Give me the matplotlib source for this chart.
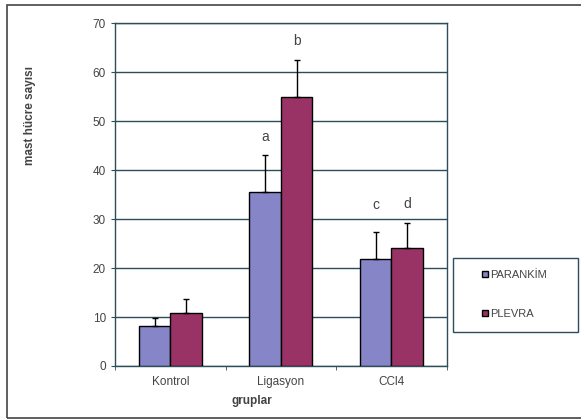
import numpy as np
import matplotlib.pyplot as plt
from matplotlib.patches import Rectangle

plt.rcParams['font.family'] = ['Liberation Sans', 'DejaVu Sans']

# data
groups = ['Kontrol', 'Ligasyon', 'CCl4']
parankim = [8.2, 35.5, 21.8]
parankim_err = [1.6, 7.6, 5.5]
plevra = [10.8, 54.9, 24.1]
plevra_err = [2.9, 7.5, 5.1]
letters_parankim = ['', 'a', 'c']
letters_plevra = ['', 'b', 'd']

blue = '#8585c8'
red = '#993366'
grid_col = '#2e4d5a'
txt_col = '#444444'

fig = plt.figure(figsize=(5.81, 4.20), dpi=100)
ax = fig.add_axes([0.198, 0.1286, 0.571, 0.8164])

x = np.arange(len(groups))
w = 0.285
ax.bar(x - w / 2, parankim, w, color=blue, edgecolor='black', linewidth=1.0,
       label='PARANKİM', zorder=3)
ax.bar(x + w / 2, plevra, w, color=red, edgecolor='black', linewidth=1.0,
       label='PLEVRA', zorder=3)
ax.errorbar(x - w / 2, parankim, yerr=[np.zeros(3), parankim_err], fmt='none',
            ecolor='black', elinewidth=1.0, capsize=2.5, capthick=1.0, zorder=4)
ax.errorbar(x + w / 2, plevra, yerr=[np.zeros(3), plevra_err], fmt='none',
            ecolor='black', elinewidth=1.0, capsize=2.5, capthick=1.0, zorder=4)

# significance letters above the error bars
for i in range(3):
    top_p = parankim[i] + parankim_err[i]
    top_l = plevra[i] + plevra_err[i]
    if abs(top_p - top_l) < 3:
        top_p = top_l = max(top_p, top_l)
    if letters_parankim[i]:
        ax.text(x[i] - w / 2, top_p + 2.2, letters_parankim[i],
                ha='center', va='bottom', fontsize=10, color=txt_col)
    if letters_plevra[i]:
        ax.text(x[i] + w / 2, top_l + 2.5, letters_plevra[i],
                ha='center', va='bottom', fontsize=10, color=txt_col)

ax.set_xlim(-0.5, 2.5)
ax.set_ylim(0, 70)
ax.set_yticks(range(0, 71, 10))
ax.yaxis.grid(True, color=grid_col, linewidth=1.0, zorder=0)
ax.set_xticks(x)
ax.set_xticklabels(groups, fontsize=8.5, color=txt_col)
ax.set_xticks([-0.5, 0.5, 1.5, 2.5], minor=True)
ax.tick_params(axis='x', which='major', length=0, pad=7)
ax.tick_params(axis='x', which='minor', length=3, color=grid_col)
ax.tick_params(axis='y', labelsize=8.5, labelcolor=txt_col, length=3, color=grid_col)
for s in ax.spines.values():
    s.set_color(grid_col)
    s.set_linewidth(1.0)

fig.text(0.434, 0.045, 'gruplar', ha='center', va='center',
         fontsize=8.5, fontweight='bold', color=txt_col)
fig.text(0.052, 0.726, 'mast hücre sayısı', rotation=90, ha='center', va='center',
         fontsize=8.5, fontweight='bold', color=txt_col)

# legend box drawn separately so it gets the wide Excel shape
fig.patches.append(Rectangle((453 / 581, 88 / 420), 125 / 581, 74 / 420,
                             transform=fig.transFigure, fill=False,
                             edgecolor=grid_col, linewidth=1.0))
handles, labels = ax.get_legend_handles_labels()
leg = fig.legend(handles, labels, loc='upper left',
                 bbox_to_anchor=(482 / 581, 1 - 270 / 420), frameon=False,
                 fontsize=8, handlelength=0.55, handleheight=0.55,
                 handletextpad=0.2, labelspacing=2.6, borderpad=0, borderaxespad=0)
for t in leg.get_texts():
    t.set_color(txt_col)

# outer chart frame
fig.patches.append(Rectangle((7 / 581, 2 / 420), 1.0, 413 / 420, transform=fig.transFigure,
                             fill=False, edgecolor='#444444', linewidth=1.2))

fig.savefig('out.png', dpi=100)
